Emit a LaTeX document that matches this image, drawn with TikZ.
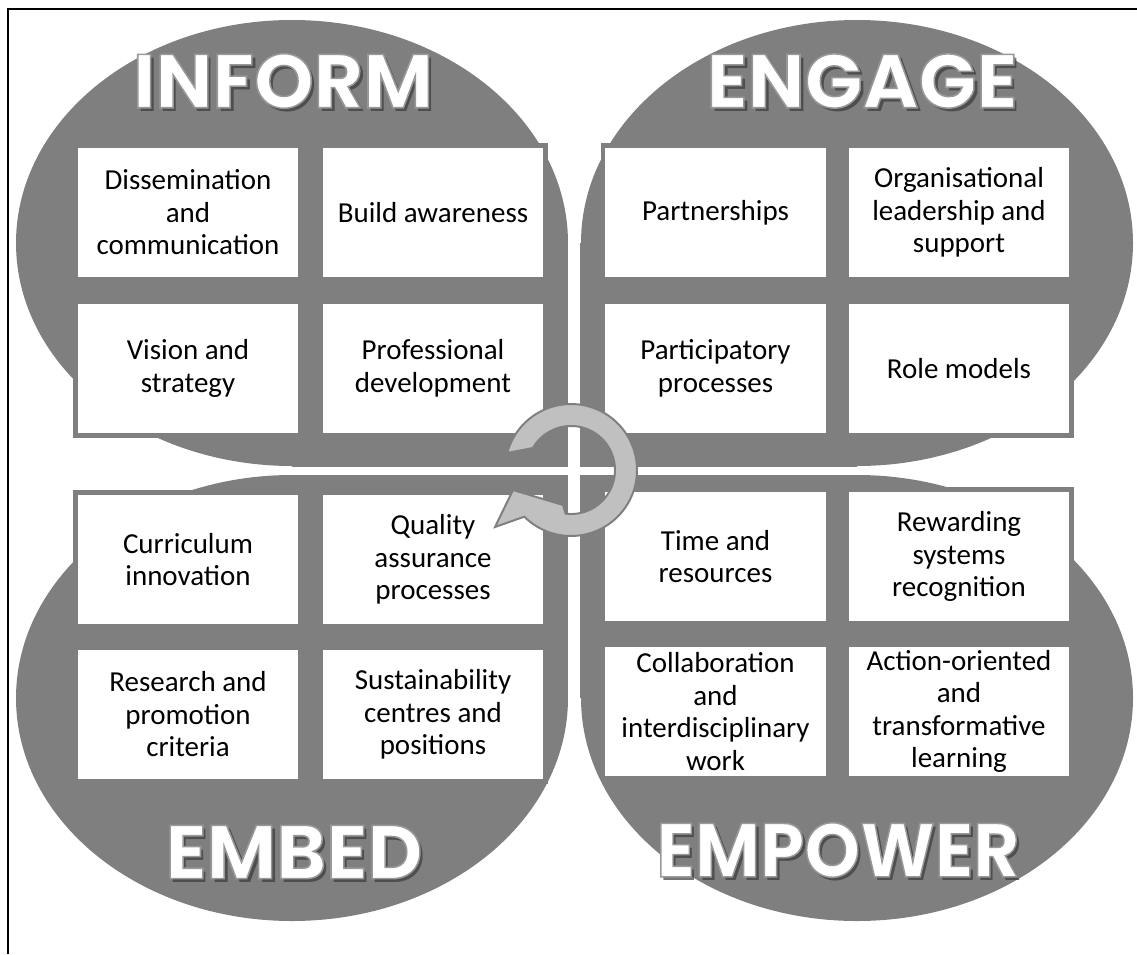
\documentclass[tikz,border=0pt]{standalone}
\usepackage{fontspec}
\setmainfont{Carlito}
\newfontfamily\hdrfont{Poppins}
\usetikzlibrary{shadows,calc}
\definecolor{petal}{HTML}{7F7F7F}
\definecolor{ringfill}{HTML}{C0C0C0}
\definecolor{hdrshade}{HTML}{3A3A3A}
\newcommand\rimtext[1]{\special{pdf:literal direct 2 Tr 1.1 w 0.6 0.6 0.6 RG}#1\special{pdf:literal direct 0 Tr}}
\newcommand\petalhead[3]{%
  \node[hdr, text=hdrshade, opacity=0.7] (#1s) at ($(#2)+(3.5,3.5)$) {#3};
  \node[hdr, text=white] (#1) at (#2) {\rimtext{#3}};
}
\begin{document}
\begin{tikzpicture}[x=0.025cm,y=-0.025cm,
  tbox/.style={draw=petal, fill=white, line width=3.5pt, inner sep=0pt,
    minimum width=5.625cm, minimum height=3.35cm, align=center,
    font=\fontsize{20.6}{23.1}\selectfont,
    drop shadow={shadow xshift=1.6pt, shadow yshift=-1.6pt, opacity=0.35, fill=black}},
  hdr/.style={font=\hdrfont\bfseries\fontsize{54}{54}\selectfont, inner sep=0pt, anchor=center}]
\useasboundingbox (0,0) rectangle (1137,954);
% petals
\fill[petal] (292,243) ellipse [x radius=276, y radius=223];
\fill[petal] (292,243) rectangle (568,467);
\fill[petal] (857,243) ellipse [x radius=276, y radius=223];
\fill[petal] (580,243) rectangle (857,467);
\fill[petal] (292,698) ellipse [x radius=276, y radius=223];
\fill[petal] (292,475) rectangle (568,698);
\fill[petal] (857,698) ellipse [x radius=276, y radius=223];
\fill[petal] (580,475) rectangle (857,698);
% frame
\draw[line width=1.2pt] (8,954) -- (8,9) -- (1137,9);
% INFORM boxes
\node[tbox] (b11) at (188,212.5) {Dissemination\\and\\communication};
\node[tbox] (b12) at (433,212.5) {Build awareness};
\node[tbox] (b21) at (188,368.5) {Vision and\\strategy};
\node[tbox] (b22) at (433,368.5) {Professional\\development};
% ENGAGE boxes
\node[tbox] (b13) at (715.5,212.5) {Partnerships};
\node[tbox] (b14) at (959,212.5) {Organisational\\leadership and\\support};
\node[tbox] (b23) at (715.5,368.5) {Participatory\\processes};
\node[tbox] (b24) at (959,368.5) {Role models};
% EMBED boxes
\node[tbox] (b31) at (188,559.5) {Curriculum\\innovation};
\node[tbox] (b32) at (433,559.5) {Quality\\assurance\\processes};
\node[tbox] (b41) at (188,714.5) {Research and\\promotion\\criteria};
\node[tbox] (b42) at (433,714.5) {Sustainability\\centres and\\positions};
% EMPOWER boxes
\node[tbox] (b33) at (715.5,556.5) {Time and\\resources};
\node[tbox] (b34) at (959,556.5) {Rewarding\\systems\\recognition};
\node[tbox] (b43) at (715.5,711.5) {Collaboration\\and\\interdisciplinary\\work};
\node[tbox] (b44) at (959,711.5) {Action-oriented\\and\\transformative\\learning};
% headers
\coordinate (pInform) at (283,81);
\coordinate (pEngage) at (862,81);
\coordinate (pEmbed) at (294,852);
\coordinate (pEmpower) at (838,850);
\petalhead{hInform}{pInform}{INFORM}
\petalhead{hEngage}{pEngage}{ENGAGE}
\petalhead{hEmbed}{pEmbed}{EMBED}
\petalhead{hEmpower}{pEmpower}{\scalebox{0.935}[1]{EMPOWER}}
% circular arrow
\filldraw[fill=ringfill, draw=petal, line width=1.4pt, line join=miter]
  plot[domain=-165:135, samples=90] ({571+66*cos(\x)},{470+66*sin(\x)})
  -- (495,527) -- (513,490) -- (563,505)
  -- plot[domain=97:-150, samples=90] ({571+44*cos(\x)},{470+44*sin(\x)})
  -- cycle;
\end{tikzpicture}
\end{document}
